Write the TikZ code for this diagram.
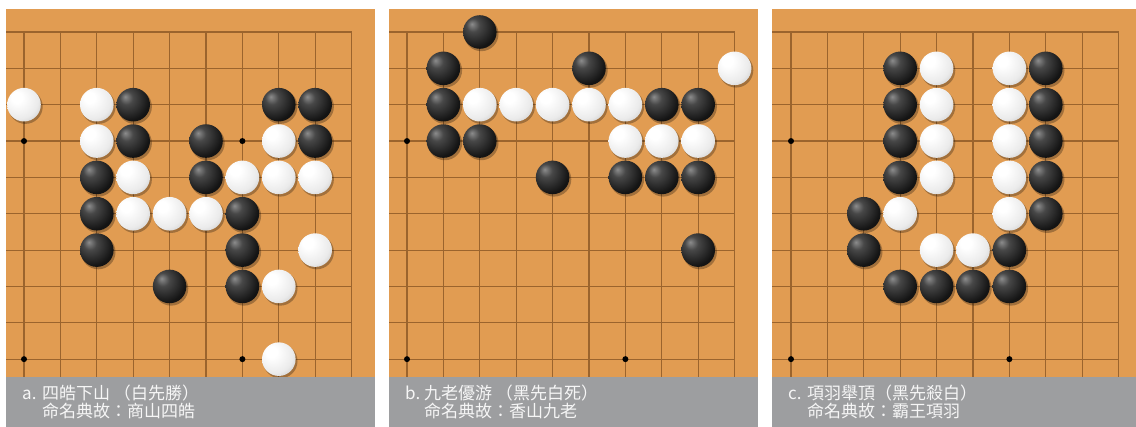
\documentclass[tikz,border=0pt]{standalone}
\usepackage{fontspec}
\newfontfamily\cjk{Noto Sans CJK TC}
\definecolor{board}{RGB}{225,156,82}
\definecolor{gridc}{RGB}{155,100,45}
\definecolor{capbar}{RGB}{157,158,160}
\definecolor{captext}{RGB}{246,246,246}
\pgfdeclareradialshading{wstone}{\pgfpoint{-12bp}{12bp}}{color(0bp)=(white); color(8bp)=(white); color(28bp)=(black!8); color(45bp)=(black!28); color(58bp)=(black!50); color(70bp)=(black!55)}
\pgfdeclareradialshading{bstone}{\pgfpoint{-12bp}{12bp}}{color(0bp)=(black!45); color(10bp)=(black!72); color(30bp)=(black!92); color(70bp)=(black)}
\tikzset{
  boardbg/.style={fill=board},
  gridline/.style={draw=gridc, line width=1.1pt},
  starpt/.style={fill=black},
  stoneshadow/.style={fill=black, opacity=0.28},
  capbox/.style={fill=capbar},
  captxt/.style={inner sep=0pt, anchor=base west, text=captext, font=\cjk\fontsize{17}{17}\selectfont}
}
\newcommand\Bst[3]{%
  \fill[stoneshadow] ({#1+#2*36.4+1.5},{32+#3*36.35+2}) circle (17.2);
  \shade[shading=bstone] ({#1+#2*36.4},{32+#3*36.35}) circle (16.8);}
\newcommand\Wst[3]{%
  \fill[stoneshadow] ({#1+#2*36.4+1.5},{32+#3*36.35+2}) circle (17.2);
  \shade[shading=wstone] ({#1+#2*36.4},{32+#3*36.35}) circle (16.8);}
\begin{document}
\begin{tikzpicture}[x=1pt,y=-1pt]
\useasboundingbox (0,0) rectangle (1136,427);
\fill[white] (0,0) rectangle (1136,427);
% boards and grids
\foreach \L/\C/\R in {6/24/375, 389/407/758, 772/791/1136}{
  \fill[boardbg] (\L,9) rectangle (\R,377);
  \foreach \i in {0,...,9}{
    \draw[gridline] (\L,{32+\i*36.35}) -- ({\C+9*36.4},{32+\i*36.35});
    \draw[gridline] ({\C+\i*36.4},32) -- ({\C+\i*36.4},377);
  }
  \foreach \a/\b in {0/3,6/3,0/9,6/9}{
    \fill[starpt] ({\C+\a*36.4},{32+\b*36.35}) circle (3);
  }
}
% panel a
\foreach \a/\b in {0/2,2/2,2/3,7/3,3/4,6/4,7/4,8/4,3/5,4/5,5/5,8/6,7/7,7/9}{\Wst{24}{\a}{\b}}
\foreach \a/\b in {3/2,7/2,8/2,3/3,5/3,8/3,2/4,5/4,2/5,6/5,2/6,6/6,4/7,6/7}{\Bst{24}{\a}{\b}}
% panel b
\foreach \a/\b in {9/1,2/2,3/2,4/2,5/2,6/2,6/3,7/3,8/3}{\Wst{407}{\a}{\b}}
\foreach \a/\b in {2/0,1/1,5/1,1/2,7/2,8/2,1/3,2/3,4/4,6/4,7/4,8/4,8/6}{\Bst{407}{\a}{\b}}
% panel c
\foreach \a/\b in {4/1,6/1,4/2,6/2,4/3,6/3,4/4,6/4,3/5,6/5,4/6,5/6}{\Wst{791}{\a}{\b}}
\foreach \a/\b in {3/1,7/1,3/2,7/2,3/3,7/3,3/4,7/4,2/5,7/5,2/6,6/6,3/7,4/7,5/7,6/7}{\Bst{791}{\a}{\b}}
% caption bars
\fill[capbox] (6,377) rectangle (375,427);
\fill[capbox] (389,377) rectangle (758,427);
\fill[capbox] (772,377) rectangle (1136,427);
\node[captxt] (capa0) at (22,400) {a.};
\node[captxt] (capa1) at (42,400) {四皓下山 （白先勝）};
\node[captxt] (capa2) at (42,418) {命名典故：商山四皓};
\node[captxt] (capb0) at (405,400) {b.};
\node[captxt] (capb1) at (424,400) {九老優游 （黑先白死）};
\node[captxt] (capb2) at (424,418) {命名典故：香山九老};
\node[captxt] (capc0) at (788,400) {c.};
\node[captxt] (capc1) at (807,400) {項羽舉頂（黑先殺白）};
\node[captxt] (capc2) at (807,418) {命名典故：霸王項羽};
\end{tikzpicture}
\end{document}
